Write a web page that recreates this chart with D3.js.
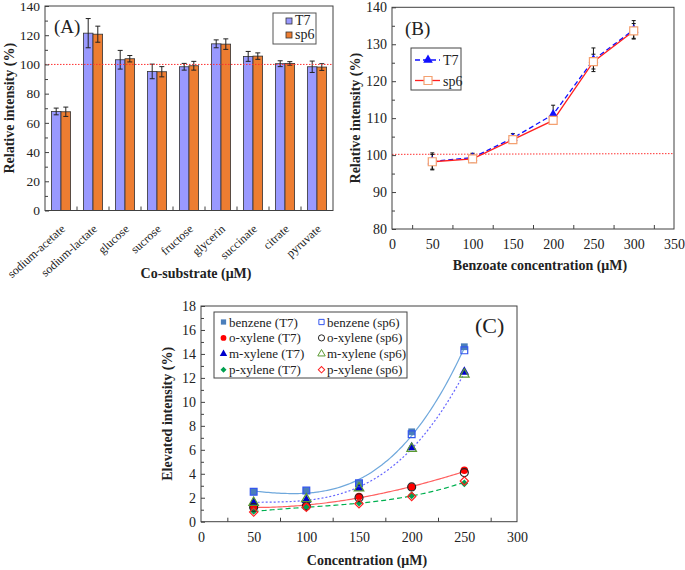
<!DOCTYPE html>
<html>
<head>
<meta charset="utf-8">
<script src="https://cdn.jsdelivr.net/npm/d3@7"></script>
<style>
  body { margin: 0; background: #fff; }
  svg { font-family: "Liberation Serif", "Times New Roman", serif; }
</style>
</head>
<body>
<svg id="fig" width="685" height="570"></svg>
<script>
// ---- panel A data ----
const catsA = ['sodium-acetate', 'sodium-lactate', 'glucose', 'sucrose', 'fructose', 'glycerin', 'succinate', 'citrate', 'pyruvate'];
const t7A = [67.8, 121.4, 103.2, 95.2, 98.4, 114.1, 105.5, 100.5, 98.4];
const t7AErr = [2.3, 10, 6.4, 5, 2.3, 2.7, 3.4, 2, 3.9];
const sp6A = [67.6, 120.7, 103.9, 95, 99.1, 113.9, 105.7, 100.7, 98.2];
const sp6AErr = [3.2, 5.5, 2.2, 3.5, 3, 3.6, 2.2, 1.2, 2.3];

// ---- panel B data ----
const concB = [50, 100, 150, 200, 250, 300];
const t7B = [98.3, 99.3, 104.6, 111.0, 125.8, 133.9];
const t7BErr = [2.3, 1.2, 1.2, 2.5, 3.2, 2.5];
const sp6B = [98.2, 99.0, 104.2, 109.4, 125.3, 133.6];
const sp6BErr = [2.0, 1.0, 1.0, 1.0, 2.0, 2.0];

// ---- panel C data ----
const concC = [50, 100, 150, 200, 250];
const benzeneT7 = [2.5, 2.6, 3.2, 7.5, 14.6];
const benzeneSp6 = [2.5, 2.6, 3.2, 7.3, 14.3];
const oXyleneT7 = [1.2, 1.4, 2.1, 2.9, 4.3];
const oXyleneSp6 = [1.2, 1.3, 2.0, 2.9, 4.1];
const mXyleneT7 = [1.6, 1.8, 2.8, 6.2, 12.5];
const mXyleneSp6 = [1.6, 1.9, 2.8, 6.1, 12.3];
const pXyleneT7 = [0.9, 1.2, 1.6, 2.2, 3.2];
const pXyleneSp6 = [0.8, 1.2, 1.5, 2.1, 3.4];

const svg = d3.select('#fig');
const frameCol = '#404040';

// inward ticks, labels outside
function ticksLeft(g, y, x0, major, minor, fs) {
    g.append('g').attr('transform', `translate(${x0},0)`)
        .call(d3.axisLeft(y).tickValues(minor).tickSize(-3).tickFormat(''))
        .call(a => a.select('.domain').remove())
        .selectAll('line').attr('stroke', frameCol);
    const ax = g.append('g').attr('transform', `translate(${x0},0)`)
        .call(d3.axisLeft(y).tickValues(major).tickSize(-4).tickPadding(5));
    ax.select('.domain').remove();
    ax.selectAll('line').attr('stroke', frameCol);
    ax.selectAll('text').attr('font-size', fs).attr('fill', '#222').style('font-family', 'Liberation Serif');
}
function ticksBottom(g, x, y0, major, minor, fs, pad) {
    g.append('g').attr('transform', `translate(0,${y0})`)
        .call(d3.axisBottom(x).tickValues(minor).tickSize(-4).tickFormat(''))
        .call(a => a.select('.domain').remove())
        .selectAll('line').attr('stroke', frameCol);
    if (major) {
        const ax = g.append('g').attr('transform', `translate(0,${y0})`)
            .call(d3.axisBottom(x).tickValues(major).tickSize(0).tickPadding(pad));
        ax.select('.domain').remove();
        ax.selectAll('text').attr('font-size', fs).attr('fill', '#222').style('font-family', 'Liberation Serif');
    }
}

// ================= (A) =================
const gA = svg.append('g');
const xA = d3.scaleBand().domain(catsA).range([45, 333]).paddingInner(0.4).paddingOuter(0.2);
const xSub = d3.scaleBand().domain(['T7', 'sp6']).range([0, xA.bandwidth()]);
const yA = d3.scaleLinear().domain([0, 140]).range([210.5, 6]);
const colA = { T7: '#9999FF', sp6: '#ED7D31' };

const rowsA = catsA.map((c, i) => [
    { cat: c, s: 'T7', v: t7A[i], e: t7AErr[i] },
    { cat: c, s: 'sp6', v: sp6A[i], e: sp6AErr[i] }
]).flat();

gA.append('g').selectAll('rect').data(rowsA).join('rect')
    .attr('x', d => xA(d.cat) + xSub(d.s))
    .attr('y', d => yA(d.v))
    .attr('width', xSub.bandwidth())
    .attr('height', d => yA(0) - yA(d.v))
    .attr('fill', d => colA[d.s])
    .attr('stroke', '#333').attr('stroke-width', 0.8);

const errA = gA.append('g').attr('stroke', '#222').attr('stroke-width', 1)
    .selectAll('g').data(rowsA).join('g')
    .attr('transform', d => `translate(${xA(d.cat) + xSub(d.s) + xSub.bandwidth() / 2},0)`);
errA.append('line').attr('y1', d => yA(d.v - d.e)).attr('y2', d => yA(d.v + d.e));
errA.append('line').attr('x1', -2.5).attr('x2', 2.5).attr('y1', d => yA(d.v + d.e)).attr('y2', d => yA(d.v + d.e));
errA.append('line').attr('x1', -2.5).attr('x2', 2.5).attr('y1', d => yA(d.v - d.e)).attr('y2', d => yA(d.v - d.e));

gA.append('line').attr('x1', 45).attr('x2', 333).attr('y1', yA(100)).attr('y2', yA(100))
    .attr('stroke', '#FF3030').attr('stroke-width', 1).attr('stroke-dasharray', '1.5,1.5');

gA.append('rect').attr('x', 45).attr('y', yA(140)).attr('width', 288).attr('height', yA(0) - yA(140))
    .attr('fill', 'none').attr('stroke', frameCol);
ticksLeft(gA, yA, 45, d3.range(0, 141, 20), d3.range(10, 140, 20), 13.5);
// category boundary ticks
const boundsA = d3.range(1, catsA.length).map(i => 45 + i * xA.step());
gA.append('g').selectAll('line').data(boundsA).join('line')
    .attr('x1', d => d).attr('x2', d => d).attr('y1', yA(0)).attr('y2', yA(0) - 4).attr('stroke', frameCol);

gA.append('g').selectAll('text').data(catsA).join('text')
    .attr('transform', d => `translate(${xA(d) + xA.bandwidth() / 2 + 5},230) rotate(-42)`)
    .attr('text-anchor', 'end').attr('font-size', 12).attr('fill', '#222')
    .text(d => d);

gA.append('text').attr('x', 54).attr('y', 33).attr('font-size', 19).attr('fill', '#222').text('(A)');
gA.append('text').attr('transform', `translate(14,${(yA(140) + yA(0)) / 2}) rotate(-90)`)
    .attr('text-anchor', 'middle').attr('font-size', 14).attr('font-weight', 'bold').attr('fill', '#222')
    .text('Relative intensity (%)');
gA.append('text').attr('x', 196).attr('y', 278).attr('text-anchor', 'middle')
    .attr('font-size', 14).attr('font-weight', 'bold').attr('fill', '#222').text('Co-substrate (μM)');

const legA = gA.append('g');
legA.append('rect').attr('x', 273).attr('y', 13).attr('width', 43).attr('height', 31)
    .attr('fill', '#fff').attr('stroke', '#555');
['T7', 'sp6'].forEach((s, i) => {
    legA.append('rect').attr('x', 286).attr('y', 18 + i * 14).attr('width', 6).attr('height', 6)
        .attr('fill', colA[s]).attr('stroke', '#333').attr('stroke-width', 0.8);
    legA.append('text').attr('x', 295).attr('y', 25 + i * 14).attr('font-size', 14).attr('fill', '#222').text(s);
});

// ================= (B) =================
const gB = svg.append('g');
const xB = d3.scaleLinear().domain([0, 350]).range([392, 674]);
const yB = d3.scaleLinear().domain([80, 140]).range([229, 7.3]);

gB.append('line').attr('x1', 392).attr('x2', 674).attr('y1', yB(100.2)).attr('y2', yB(100.4))
    .attr('stroke', '#FF3030').attr('stroke-width', 1).attr('stroke-dasharray', '1.5,1.5');

const seriesB = [
    { name: 'T7', vals: t7B, errs: t7BErr, color: '#1010FF', dash: '5,3' },
    { name: 'sp6', vals: sp6B, errs: sp6BErr, color: '#FF2020', dash: null }
];
seriesB.forEach(s => {
    const pts = concB.map((c, i) => ({ x: c, v: s.vals[i], e: s.errs[i] }));
    const eg = gB.append('g').attr('stroke', '#111').attr('stroke-width', 1)
        .selectAll('g').data(pts).join('g').attr('transform', d => `translate(${xB(d.x)},0)`);
    eg.append('line').attr('y1', d => yB(d.v - d.e)).attr('y2', d => yB(d.v + d.e));
    eg.append('line').attr('x1', -2).attr('x2', 2).attr('y1', d => yB(d.v + d.e)).attr('y2', d => yB(d.v + d.e));
    eg.append('line').attr('x1', -2).attr('x2', 2).attr('y1', d => yB(d.v - d.e)).attr('y2', d => yB(d.v - d.e));
});
seriesB.forEach(s => {
    const pts = concB.map((c, i) => ({ x: c, v: s.vals[i] }));
    gB.append('path').datum(pts)
        .attr('d', d3.line().x(d => xB(d.x)).y(d => yB(d.v)))
        .attr('fill', 'none').attr('stroke', s.color).attr('stroke-width', 1.3)
        .attr('stroke-dasharray', s.dash);
});
const triSym = d3.symbol().type(d3.symbolTriangle).size(40);
const sqSym = d3.symbol().type(d3.symbolSquare).size(64);
gB.append('g').selectAll('path').data(concB.map((c, i) => ({ x: c, v: t7B[i] }))).join('path')
    .attr('transform', d => `translate(${xB(d.x)},${yB(d.v)})`).attr('d', triSym).attr('fill', '#1010FF');
gB.append('g').selectAll('path').data(concB.map((c, i) => ({ x: c, v: sp6B[i] }))).join('path')
    .attr('transform', d => `translate(${xB(d.x)},${yB(d.v)})`).attr('d', sqSym)
    .attr('fill', '#fff').attr('stroke', '#F4A070').attr('stroke-width', 1.2);

gB.append('rect').attr('x', 392).attr('y', 7.3).attr('width', 282).attr('height', 229 - 7.3)
    .attr('fill', 'none').attr('stroke', frameCol);
ticksLeft(gB, yB, 392, d3.range(80, 141, 10), d3.range(85, 140, 10), 14);
ticksBottom(gB, xB, 229, d3.range(0, 351, 50), d3.range(25, 350, 50), 14, 10);

gB.append('text').attr('x', 405).attr('y', 35).attr('font-size', 19).attr('fill', '#222').text('(B)');
gB.append('text').attr('transform', `translate(360,${(7.3 + 229) / 2}) rotate(-90)`)
    .attr('text-anchor', 'middle').attr('font-size', 14).attr('font-weight', 'bold').attr('fill', '#222')
    .text('Relative intensity (%)');
gB.append('text').attr('x', 540).attr('y', 270).attr('text-anchor', 'middle')
    .attr('font-size', 14).attr('font-weight', 'bold').attr('fill', '#222').text('Benzoate concentration (μM)');

const legB = gB.append('g');
legB.append('rect').attr('x', 411).attr('y', 48).attr('width', 50).attr('height', 42)
    .attr('fill', '#fff').attr('stroke', '#444');
seriesB.forEach((s, i) => {
    const yy = 60 + i * 20.5;
    legB.append('line').attr('x1', 415).attr('x2', 440).attr('y1', yy).attr('y2', yy)
        .attr('stroke', s.color).attr('stroke-width', 1.3).attr('stroke-dasharray', s.dash);
    legB.append('path').attr('transform', `translate(428,${yy})`)
        .attr('d', i === 0 ? triSym : sqSym)
        .attr('fill', i === 0 ? '#1010FF' : '#fff')
        .attr('stroke', i === 0 ? null : '#F4A070').attr('stroke-width', 1.2);
    legB.append('text').attr('x', 443).attr('y', yy + 5).attr('font-size', 14).attr('fill', '#222').text(s.name);
});

// ================= (C) =================
const gC = svg.append('g');
const xC = d3.scaleLinear().domain([0, 300]).range([201, 517]);
const yC = d3.scaleLinear().domain([0, 18]).range([521.7, 306]);

// least-squares polynomial (Excel-like order 3 trendline)
function polyFit(xs, ys, order) {
    const n = order + 1;
    const A = d3.range(n).map(() => new Array(n + 1).fill(0));
    xs.forEach((x, k) => {
        for (let i = 0; i < n; i++) {
            for (let j = 0; j < n; j++) A[i][j] += Math.pow(x, i + j);
            A[i][n] += ys[k] * Math.pow(x, i);
        }
    });
    for (let i = 0; i < n; i++) {
        let p = i;
        for (let r = i + 1; r < n; r++) if (Math.abs(A[r][i]) > Math.abs(A[p][i])) p = r;
        [A[i], A[p]] = [A[p], A[i]];
        for (let r = 0; r < n; r++) {
            if (r === i) continue;
            const f = A[r][i] / A[i][i];
            for (let c = i; c <= n; c++) A[r][c] -= f * A[i][c];
        }
    }
    const coef = A.map((row, i) => row[n] / row[i]);
    return x => coef.reduce((s, c, i) => s + c * Math.pow(x, i), 0);
}

const trendsC = [
    { t7: benzeneT7, sp6: benzeneSp6, color: '#6FA8DC', dash: null },
    { t7: mXyleneT7, sp6: mXyleneSp6, color: '#6666FF', dash: '2,2' },
    { t7: oXyleneT7, sp6: oXyleneSp6, color: '#FF6060', dash: null },
    { t7: pXyleneT7, sp6: pXyleneSp6, color: '#00B050', dash: '5,3' }
];
trendsC.forEach(t => {
    const xs = concC.map(c => (c - 150) / 50);
    const f = polyFit(xs.concat(xs), t.t7.concat(t.sp6), 3);
    const pts = d3.range(50, 250.01, 2).map(c => ({ x: c, v: f((c - 150) / 50) }));
    gC.append('path').datum(pts)
        .attr('d', d3.line().x(d => xC(d.x)).y(d => yC(d.v)).curve(d3.curveMonotoneX))
        .attr('fill', 'none').attr('stroke', t.color).attr('stroke-width', 1.2)
        .attr('stroke-dasharray', t.dash);
});

const seriesC = [
    { label: 'benzene (T7)', vals: benzeneT7, sym: d3.symbolSquare, size: 46, fill: '#4A7EBB', stroke: null, rot: 0 },
    { label: 'o-xylene (T7)', vals: oXyleneT7, sym: d3.symbolCircle, size: 44, fill: '#FF0000', stroke: null, rot: 0 },
    { label: 'm-xylene (T7)', vals: mXyleneT7, sym: d3.symbolTriangle, size: 40, fill: '#0000CC', stroke: null, rot: 0 },
    { label: 'p-xylene (T7)', vals: pXyleneT7, sym: d3.symbolSquare, size: 30, fill: '#00A050', stroke: null, rot: 45 },
    { label: 'benzene (sp6)', vals: benzeneSp6, sym: d3.symbolSquare, size: 46, fill: 'none', stroke: '#3355EE', rot: 0 },
    { label: 'o-xylene (sp6)', vals: oXyleneSp6, sym: d3.symbolCircle, size: 50, fill: 'none', stroke: '#222', rot: 0 },
    { label: 'm-xylene (sp6)', vals: mXyleneSp6, sym: d3.symbolTriangle, size: 40, fill: 'none', stroke: '#5A9A30', rot: 0 },
    { label: 'p-xylene (sp6)', vals: pXyleneSp6, sym: d3.symbolSquare, size: 34, fill: 'none', stroke: '#FF2020', rot: 45 }
];
seriesC.forEach(s => {
    gC.append('g').selectAll('path').data(concC.map((c, i) => ({ x: c, v: s.vals[i] }))).join('path')
        .attr('transform', d => `translate(${xC(d.x)},${yC(d.v)}) rotate(${s.rot})`)
        .attr('d', d3.symbol().type(s.sym).size(s.size))
        .attr('fill', s.fill).attr('stroke', s.stroke).attr('stroke-width', 1.2);
});

gC.append('rect').attr('x', 201).attr('y', 306).attr('width', 316).attr('height', 521.7 - 306)
    .attr('fill', 'none').attr('stroke', frameCol);
ticksLeft(gC, yC, 201, d3.range(0, 19, 2), d3.range(1, 18, 2), 14);
ticksBottom(gC, xC, 521.7, d3.range(0, 301, 50), d3.range(25, 300, 50), 14, 10);

gC.append('text').attr('x', 475).attr('y', 333).attr('font-size', 22).attr('fill', '#222').text('(C)');
gC.append('text').attr('transform', `translate(172,${(306 + 521.7) / 2}) rotate(-90)`)
    .attr('text-anchor', 'middle').attr('font-size', 14).attr('font-weight', 'bold').attr('fill', '#222')
    .text('Elevated intensity (%)');
gC.append('text').attr('x', 367).attr('y', 565).attr('text-anchor', 'middle')
    .attr('font-size', 14).attr('font-weight', 'bold').attr('fill', '#222').text('Concentration (μM)');

const legC = gC.append('g');
legC.append('rect').attr('x', 214).attr('y', 312).attr('width', 193).attr('height', 66)
    .attr('fill', '#fff').attr('stroke', '#444');
seriesC.forEach((s, i) => {
    const col = Math.floor(i / 4), row = i % 4;
    const mx = col === 0 ? 223.5 : 321.5, yy = 322 + row * 15.9;
    legC.append('path').attr('transform', `translate(${mx},${yy}) rotate(${s.rot})`)
        .attr('d', d3.symbol().type(s.sym).size(s.size * 0.6))
        .attr('fill', s.fill).attr('stroke', s.stroke).attr('stroke-width', 1);
    legC.append('text').attr('x', mx + 5.5).attr('y', yy + 4.5).attr('font-size', 13).attr('fill', '#222').text(s.label);
});
</script>
</body>
</html>
